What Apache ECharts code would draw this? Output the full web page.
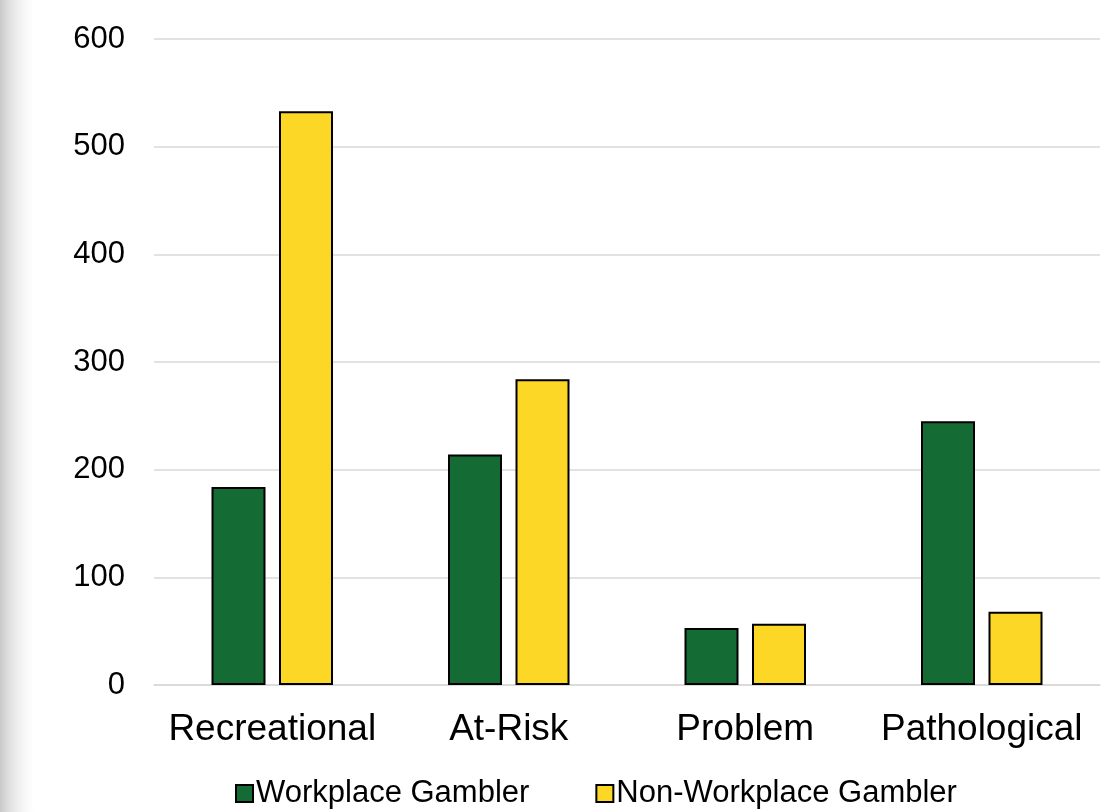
<!DOCTYPE html>
<html>
<head>
<meta charset="utf-8">
<script src="https://cdn.jsdelivr.net/npm/echarts@6/dist/echarts.min.js"></script>
<style>
  html, body { margin: 0; padding: 0; }
  body {
    width: 1102px; height: 812px; overflow: hidden;
    background: linear-gradient(to right, #c9c9c9 0px, #dedede 8px, #efefef 18px, #fbfbfb 28px, #ffffff 34px);
  }
  #chart { width: 1102px; height: 812px; }
</style>
</head>
<body>
<div id="chart"></div>
<script>
// Gambler groups by severity category
const categories = ['Recreational', 'At-Risk', 'Problem', 'Pathological'];
const workplace = [184, 214, 53, 245];
const nonWorkplace = [533, 284, 57, 68];
const yTicks = { min: 0, max: 600, interval: 100 };

const GREEN = '#156B34';
const YELLOW = '#FDD726';
const FONT = 'Liberation Sans, Arial, sans-serif';

const chart = echarts.init(document.getElementById('chart'), null, { renderer: 'canvas' });
chart.setOption({
  backgroundColor: 'transparent',
  animation: false,
  grid: { left: 154, right: 2, top: 39, bottom: 127, containLabel: false },
  legend: {
    left: 230,
    bottom: -2,
    icon: 'rect',
    itemWidth: 17,
    itemHeight: 17,
    itemGap: 66,
    textStyle: { fontFamily: FONT, fontSize: 31, color: '#000', padding: [0, 0, 0, -2] },
    data: ['Workplace Gambler', 'Non-Workplace Gambler']
  },
  xAxis: {
    type: 'category',
    data: categories,
    axisTick: { show: false },
    axisLine: { lineStyle: { color: '#d9d9d9', width: 1.5 } },
    axisLabel: { fontFamily: FONT, fontSize: 37, color: '#000', margin: 26, interval: 0 }
  },
  yAxis: {
    type: 'value',
    min: yTicks.min,
    max: yTicks.max,
    interval: yTicks.interval,
    axisLine: { show: false },
    axisTick: { show: false },
    splitLine: { lineStyle: { color: '#d9d9d9', width: 1.5 } },
    axisLabel: { fontFamily: FONT, fontSize: 31, color: '#000', margin: 29 }
  },
  series: [
    {
      name: 'Workplace Gambler',
      type: 'bar',
      data: workplace,
      barWidth: 54,
      barGap: '25%',
      itemStyle: { color: GREEN, borderColor: '#000', borderWidth: 2 }
    },
    {
      name: 'Non-Workplace Gambler',
      type: 'bar',
      data: nonWorkplace,
      barWidth: 54,
      barGap: '25%',
      itemStyle: { color: YELLOW, borderColor: '#000', borderWidth: 2 }
    }
  ]
});
</script>
</body>
</html>
